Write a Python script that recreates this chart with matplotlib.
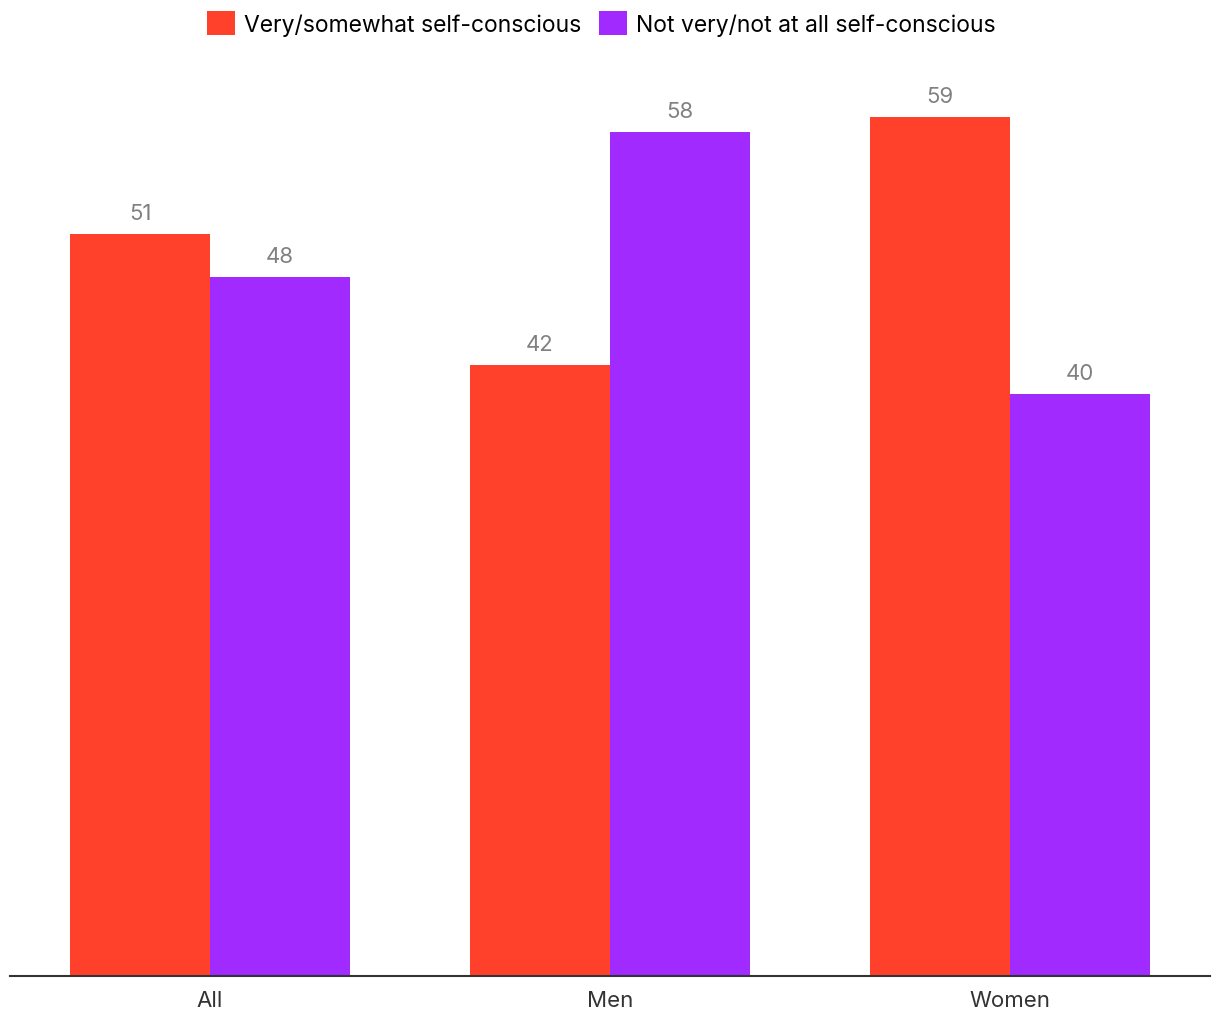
import matplotlib.pyplot as plt
import numpy as np

plt.rcParams['font.family'] = ['Inter', 'DejaVu Sans']

groups = ['All', 'Men', 'Women']
very_self_conscious = [51, 42, 59]
not_self_conscious = [48, 58, 40]
series_labels = ['Very/somewhat self-conscious', 'Not very/not at all self-conscious']

RED = '#FF412C'
PURPLE = '#A12AFF'

fig = plt.figure(figsize=(12.2, 10.2), dpi=100)
ax = fig.add_axes([0.0082, 0.0425, 0.9836, 0.8985])

x = np.arange(len(groups))
w = 0.35
b1 = ax.bar(x - w / 2, very_self_conscious, w, color=RED, label=series_labels[0])
b2 = ax.bar(x + w / 2, not_self_conscious, w, color=PURPLE, label=series_labels[1])

for bars in (b1, b2):
    ax.bar_label(bars, padding=8, fontsize=16, color='#808080')

ax.set_xlim(-0.5, 2.5)
ax.set_ylim(0, 63)
ax.set_xticks(x)
ax.set_xticklabels(groups, fontsize=16, color='#333333')
ax.tick_params(axis='x', length=0, pad=10)
ax.set_yticks([])
for s in ['top', 'right', 'left']:
    ax.spines[s].set_visible(False)
ax.spines['bottom'].set_color('#333333')
ax.spines['bottom'].set_linewidth(1.5)

fig.legend(loc='upper center', bbox_to_anchor=(0.493, 1.008), ncol=2, frameon=False,
           fontsize=16.5, handlelength=1.2, handleheight=1.2, handletextpad=0.4,
           columnspacing=0.8)

fig.savefig('out.png', dpi=100)
